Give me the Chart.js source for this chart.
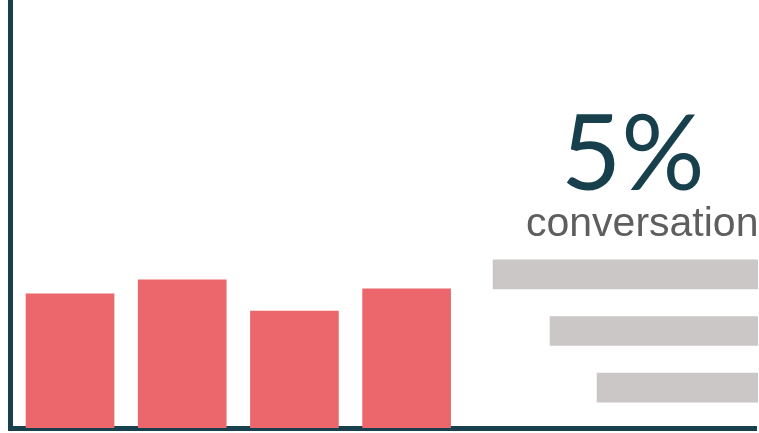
<!DOCTYPE html>
<html>
<head>
<meta charset="utf-8">
<script src="https://cdn.jsdelivr.net/npm/chart.js@4/dist/chart.umd.min.js"></script>
<style>
  html, body { margin: 0; padding: 0; background: #fff; overflow: hidden; }
  #wrap { position: relative; width: 759px; height: 433px; }
  canvas { position: absolute; }
  #bars { left: 0; top: 0; }
  #share { left: 480px; top: 246px; }
  .headline {
    position: absolute; left: 561px; top: 98px;
    font: 400 104px Lato, 'Liberation Sans', sans-serif; line-height: 1;
    color: #17404c; white-space: nowrap;
  }
  .caption {
    position: absolute; left: 526px; top: 202px;
    font: 41px 'Liberation Sans', Arial, sans-serif; line-height: 1;
    color: #5e5e5e; white-space: nowrap;
  }
</style>
</head>
<body>
<div id="wrap">
  <canvas id="bars" width="759" height="433"></canvas>
  <canvas id="share" width="279" height="170"></canvas>
  <div class="headline" id="headline"></div>
  <div class="caption" id="caption"></div>
</div>
<script>
// values for the column group and the right-hand share bars
const categories = ['A', 'B', 'C', 'D'];
const barValues = [31.4, 34.7, 27.4, 32.6];
const shareLabels = ['first', 'second', 'third'];
const shareValues = [95.3, 74.8, 57.9];
const headline = '5%';
const caption = 'conversation';

const RED = '#ec676b';
const GRAY = '#cbc7c6';
const TEAL = '#17404c';

document.getElementById('headline').textContent = headline;
document.getElementById('caption').textContent = caption;

// columns sit on a linear index axis so the frame can run the full width
new Chart(document.getElementById('bars'), {
  type: 'bar',
  data: {
    datasets: [
      {
        data: categories.map((c, i) => ({ x: i, y: barValues[i] })),
        backgroundColor: RED,
        barThickness: 88,
      },
    ],
  },
  options: {
    responsive: false,
    animation: false,
    layout: { padding: { left: 10, top: 1, right: 3, bottom: 5 } },
    plugins: { legend: { display: false }, tooltip: { enabled: false } },
    scales: {
      x: {
        type: 'linear',
        offset: false,
        min: -0.535,
        max: 6.114,
        ticks: { display: false },
        grid: { display: false, drawTicks: false },
        border: { color: TEAL, width: 5 },
      },
      y: {
        min: 0,
        max: 100,
        ticks: { display: false },
        grid: { display: false, drawTicks: false },
        border: { color: TEAL, width: 5 },
      },
    },
  },
});

// horizontal bars growing from the right edge
new Chart(document.getElementById('share'), {
  type: 'bar',
  data: {
    labels: shareLabels,
    datasets: [
      {
        data: shareValues,
        backgroundColor: GRAY,
        barThickness: 29,
      },
    ],
  },
  options: {
    indexAxis: 'y',
    responsive: false,
    animation: false,
    layout: { padding: { right: 1 } },
    plugins: { legend: { display: false }, tooltip: { enabled: false } },
    scales: {
      x: { display: false, reverse: true, min: 0, max: 100 },
      y: { display: false },
    },
  },
});
</script>
</body>
</html>
